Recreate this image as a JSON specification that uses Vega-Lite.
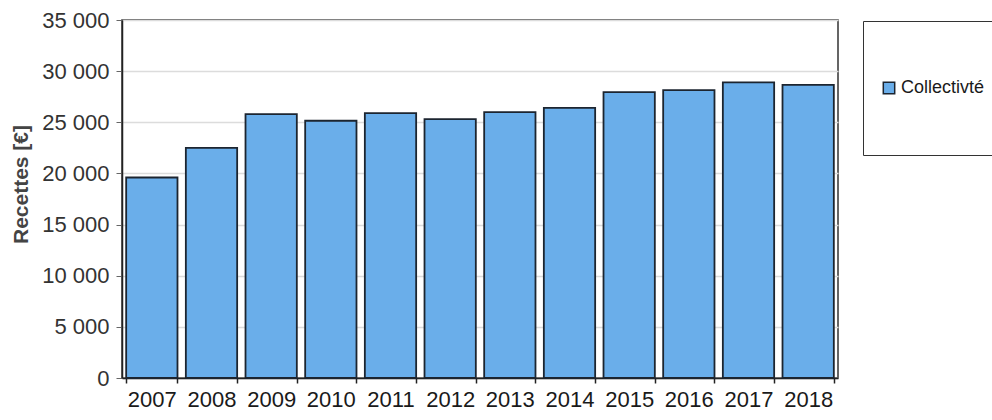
{
  "$schema": "https://vega.github.io/schema/vega-lite/v6.json",
  "autosize": {"type": "none"},
  "padding": {"left": 122, "top": 20, "right": 154, "bottom": 42},
  "width": 716,
  "height": 358,
  "background": "white",
  "data": {
    "values": [
      {"annee": "2007", "recettes": 19600, "serie": "Collectivté"},
      {"annee": "2008", "recettes": 22500, "serie": "Collectivté"},
      {"annee": "2009", "recettes": 25800, "serie": "Collectivté"},
      {"annee": "2010", "recettes": 25150, "serie": "Collectivté"},
      {"annee": "2011", "recettes": 25900, "serie": "Collectivté"},
      {"annee": "2012", "recettes": 25300, "serie": "Collectivté"},
      {"annee": "2013", "recettes": 26000, "serie": "Collectivté"},
      {"annee": "2014", "recettes": 26400, "serie": "Collectivté"},
      {"annee": "2015", "recettes": 27950, "serie": "Collectivté"},
      {"annee": "2016", "recettes": 28150, "serie": "Collectivté"},
      {"annee": "2017", "recettes": 28900, "serie": "Collectivté"},
      {"annee": "2018", "recettes": 28650, "serie": "Collectivté"}
    ]
  },
  "mark": {"type": "bar", "stroke": "#1c2530", "strokeWidth": 1.8},
  "encoding": {
    "x": {
      "field": "annee",
      "type": "ordinal",
      "scale": {"paddingInner": 0.14, "paddingOuter": 0.07},
      "axis": {
        "title": null,
        "labelAngle": 0,
        "tickBand": "extent",
        "domainColor": "#222",
        "domainWidth": 1.5,
        "tickColor": "#222",
        "tickSize": 5,
        "tickWidth": 1.5,
        "labelPadding": 6,
        "labelFontSize": 22,
        "labelFont": "Liberation Sans",
        "labelColor": "#1a1a1a"
      }
    },
    "y": {
      "field": "recettes",
      "type": "quantitative",
      "scale": {"domain": [0, 35000]},
      "axis": {
        "title": "Recettes [€]",
        "values": [0, 5000, 10000, 15000, 20000, 25000, 30000, 35000],
        "format": ",d",
        "domainColor": "#222",
        "domainWidth": 1.5,
        "tickColor": "#666",
        "tickSize": 6,
        "labelPadding": 7,
        "labelFontSize": 22,
        "labelFont": "Liberation Sans",
        "labelColor": "#333",
        "gridColor": "#dcdcdc",
        "gridWidth": 1.5,
        "titleFont": "Liberation Sans",
        "titleFontSize": 21,
        "titleFontWeight": "bold",
        "titleColor": "#444",
        "titleX": -91,
        "titleY": 164,
        "titleAlign": "center",
        "titleBaseline": "bottom"
      }
    },
    "color": {
      "field": "serie",
      "type": "nominal",
      "scale": {"range": ["#6aaeea"]},
      "legend": {
        "title": null,
        "orient": "none",
        "legendX": 741,
        "legendY": 1,
        "padding": 17,
        "clipHeight": 100,
        "strokeColor": "#333",
        "fillColor": "white",
        "symbolType": "square",
        "symbolSize": 130,
        "symbolStrokeColor": "#1c2530",
        "symbolStrokeWidth": 1.5,
        "labelFont": "Liberation Sans",
        "labelFontSize": 18,
        "labelColor": "#1a1a1a",
        "labelOffset": 3
      }
    }
  },
  "config": {
    "view": {"stroke": "#333", "strokeWidth": 1.5},
    "locale": {
      "number": {
        "decimal": ",",
        "thousands": " ",
        "grouping": [3],
        "currency": ["", " €"]
      }
    }
  }
}
